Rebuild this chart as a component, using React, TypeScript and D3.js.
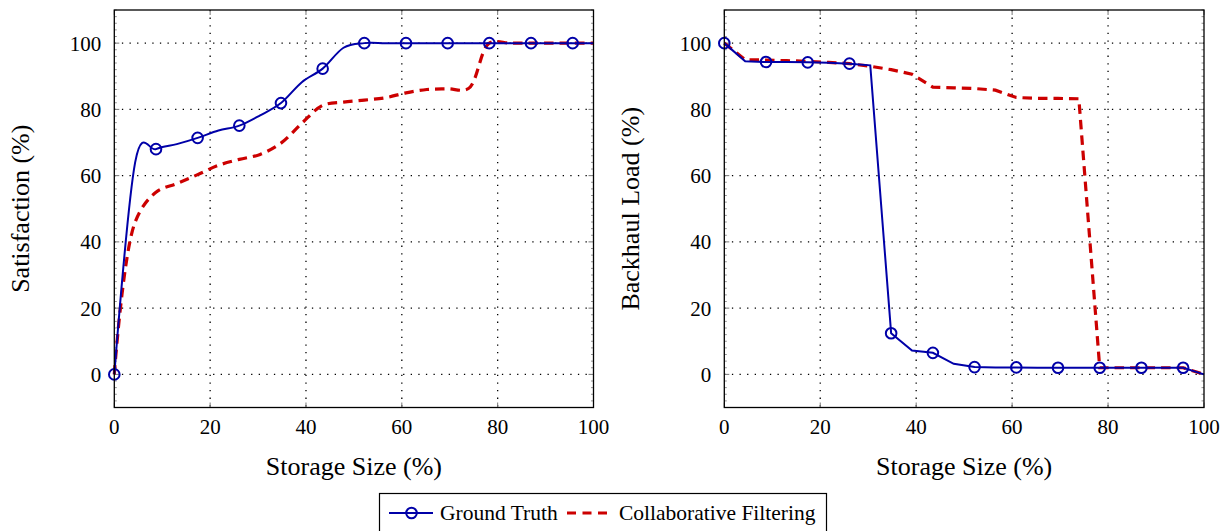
import React from "react";
import * as d3 from "d3";

// Storage size (%) sample positions
const storage = [0, 4.35, 8.7, 13.04, 17.39, 21.74, 26.09, 30.43, 34.78, 39.13, 43.48, 47.83, 52.17, 56.52, 60.87, 65.22, 69.57, 73.91, 78.26, 82.61, 86.96, 91.3, 95.65, 100];

// Left panel: Satisfaction (%)
const satGround = [0, 64, 68, 69.5, 71.4, 73.6, 75.1, 78.2, 81.9, 88.2, 92.3, 98.6, 100, 100, 100, 100, 100, 100, 100, 100, 100, 100, 100, 100];
const satCollab = [0, 46, 55, 57.6, 60.3, 63.1, 64.9, 66.4, 69.8, 75.8, 81.2, 82.2, 82.8, 83.5, 85, 86, 86.2, 86.3, 100, 100, 100, 100, 100, 100];

// Right panel: Backhaul Load (%)
const loadGround = [100, 94.5, 94.3, 94.3, 94.2, 94.1, 93.8, 93.3, 12.4, 7.2, 6.5, 3.2, 2.2, 2.1, 2.1, 2.0, 2.0, 2.0, 2.0, 2.0, 2.0, 2.0, 2.0, 0];
const loadCollab = [100, 95, 94.9, 94.7, 94.5, 94.2, 93.8, 93.0, 92.0, 90.6, 86.7, 86.5, 86.3, 85.8, 83.6, 83.3, 83.3, 83.2, 2.0, 2.0, 2.0, 2.0, 2.0, 0];

const xTicks = [0, 20, 40, 60, 80, 100];
const yTicks = [0, 20, 40, 60, 80, 100];
const xLabel = "Storage Size (%)";
const yLabels = ["Satisfaction (%)", "Backhaul Load (%)"];
const seriesNames = ["Ground Truth", "Collaborative Filtering"];

const BLUE = "#0000a8";
const RED = "#cc0000";
const FONT = "Liberation Serif, DejaVu Serif, serif";

type PanelProps = {
  x0: number;
  x1: number;
  ground: number[];
  collab: number[];
  smooth: boolean;
  yLabel: string;
  yLabelX: number;
};

function Panel({ x0, x1, ground, collab, smooth, yLabel, yLabelX }: PanelProps) {
  const y0 = 10;
  const y1 = 407.5;
  const x = d3.scaleLinear().domain([0, 100]).range([x0, x1]);
  const y = d3.scaleLinear().domain([-10, 110]).range([y1, y0]);
  const mk = (c: any) =>
    d3
      .line<[number, number]>()
      .x((d) => x(d[0]))
      .y((d) => y(d[1]))
      .curve(c);
  const gLine = mk(smooth ? d3.curveCatmullRom.alpha(0) : d3.curveLinear);
  const cLine = mk(smooth ? d3.curveCatmullRom.alpha(0.5) : d3.curveLinear);
  const gPts: [number, number][] = storage.map((s, i) => [s, ground[i]]);
  const cPts: [number, number][] = storage.map((s, i) => [s, collab[i]]);
  const minor = d3.range(-10, 110.01, 2).filter((v) => v % 20 !== 0);
  const cx = (x0 + x1) / 2;
  const txt = { fontFamily: FONT };
  return (
    <g>
      {/* grid */}
      {yTicks.map((t) => (
        <line key={"gy" + t} x1={x0} x2={x1} y1={y(t)} y2={y(t)} stroke="#000" strokeWidth={1.3} strokeDasharray="1.3 6.3" />
      ))}
      {xTicks.filter((t) => t > 0 && t < 100).map((t) => (
        <line key={"gx" + t} x1={x(t)} x2={x(t)} y1={y0} y2={y1} stroke="#000" strokeWidth={1.3} strokeDasharray="1.3 6.3" />
      ))}
      {/* major ticks */}
      {xTicks.map((t) => (
        <g key={"tx" + t}>
          <line x1={x(t)} x2={x(t)} y1={y1} y2={y1 - 5} stroke="#777" strokeWidth={1} />
          <line x1={x(t)} x2={x(t)} y1={y0} y2={y0 + 5} stroke="#777" strokeWidth={1} />
        </g>
      ))}
      {yTicks.map((t) => (
        <g key={"ty" + t}>
          <line x1={x0} x2={x0 + 5} y1={y(t)} y2={y(t)} stroke="#777" strokeWidth={1} />
          <line x1={x1} x2={x1 - 5} y1={y(t)} y2={y(t)} stroke="#777" strokeWidth={1} />
        </g>
      ))}
      {minor.map((t) => (
        <g key={"my" + t}>
          <line x1={x0} x2={x0 + 2.5} y1={y(t)} y2={y(t)} stroke="#777" strokeWidth={0.8} />
          <line x1={x1} x2={x1 - 2.5} y1={y(t)} y2={y(t)} stroke="#777" strokeWidth={0.8} />
        </g>
      ))}
      {/* series */}
      <path d={cLine(cPts) || ""} fill="none" stroke={RED} strokeWidth={3.2} strokeDasharray="9.5 6" />
      <path d={gLine(gPts) || ""} fill="none" stroke={BLUE} strokeWidth={2} />
      {gPts.filter((_, i) => i % 2 === 0).map((p, i) => (
        <circle key={"m" + i} cx={x(p[0])} cy={y(p[1])} r={5.3} fill="none" stroke={BLUE} strokeWidth={2} />
      ))}
      {/* frame */}
      <rect x={x0} y={y0} width={x1 - x0} height={y1 - y0} fill="none" stroke="#000" strokeWidth={1.3} />
      {/* tick labels */}
      {xTicks.map((t) => (
        <text key={"lx" + t} x={x(t)} y={433.5} textAnchor="middle" fontSize={21} style={txt}>{t}</text>
      ))}
      {yTicks.map((t) => (
        <text key={"ly" + t} x={x0 - 13} y={y(t) + 7.5} textAnchor="end" fontSize={21} style={txt}>{t}</text>
      ))}
      {/* axis labels */}
      <text x={cx} y={475} textAnchor="middle" fontSize={26} style={txt}>{xLabel}</text>
      <text transform={`translate(${yLabelX},${(y0 + y1) / 2}) rotate(-90)`} textAnchor="middle" fontSize={26} style={txt}>{yLabel}</text>
    </g>
  );
}

export default function App() {
  const txt = { fontFamily: FONT };
  return (
    <svg width={1229} height={531} style={{ position: "absolute", left: 0, top: 0, background: "#fff" }}>
      <Panel x0={114.3} x1={593.5} ground={satGround} collab={satCollab} smooth={true} yLabel={yLabels[0]} yLabelX={28.5} />
      <Panel x0={724.3} x1={1204} ground={loadGround} collab={loadCollab} smooth={false} yLabel={yLabels[1]} yLabelX={638.5} />
      {/* legend */}
      <g>
        <rect x={379.5} y={493.5} width={447} height={50} fill="#fff" stroke="#000" strokeWidth={1.2} />
        <line x1={389} x2={433} y1={513} y2={513} stroke={BLUE} strokeWidth={2} />
        <circle cx={411.5} cy={513} r={5.3} fill="none" stroke={BLUE} strokeWidth={2} />
        <text x={440} y={519.5} fontSize={21.5} style={txt}>{seriesNames[0]}</text>
        <line x1={567} x2={608} y1={513} y2={513} stroke={RED} strokeWidth={3.2} strokeDasharray="9 6.5" />
        <text x={619} y={519.5} fontSize={21.5} style={txt}>{seriesNames[1]}</text>
      </g>
    </svg>
  );
}
